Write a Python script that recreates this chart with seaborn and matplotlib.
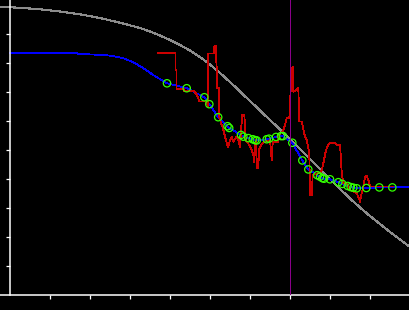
import matplotlib
matplotlib.use("Agg")
import matplotlib.pyplot as plt
import seaborn as sns
import pandas as pd

# ---- data ----
gray_x = [-0.25, 0.25, 0.75, 1.25, 1.75, 2.25, 2.75, 3.25, 3.5, 3.75, 4.0, 4.25,
          4.5, 4.75, 5.0, 5.25, 5.5, 5.75, 6.0, 6.25, 6.5, 6.75, 7.0, 7.25,
          7.5, 7.75, 8.0, 8.25, 8.5, 8.75, 9.0, 9.25, 9.5, 9.75, 10.0]
gray_y = [9.941, 9.903, 9.852, 9.776, 9.679, 9.552, 9.390, 9.207, 9.086, 8.948,
          8.793, 8.621, 8.431, 8.207, 7.948, 7.655, 7.345, 7.017, 6.690, 6.362,
          6.034, 5.707, 5.379, 5.034, 4.690, 4.345, 4.000, 3.655, 3.328, 3.017,
          2.724, 2.448, 2.172, 1.914, 1.655]

lead_x = [0.0, 1.675, 1.7, 2.325, 2.575, 2.825, 3.075, 3.325, 3.575]
lead_y = [8.34, 8.34, 8.31, 8.28, 8.24, 8.17, 8.03, 7.83, 7.59]

pts_x = [3.925, 4.418, 4.858, 4.983, 5.205, 5.438, 5.48, 5.775, 5.833, 5.958,
         6.068, 6.125, 6.168, 6.418, 6.475, 6.65, 6.775, 6.825, 7.058, 7.308,
         7.458, 7.683, 7.75, 7.808, 7.85, 8.0, 8.208, 8.308, 8.443, 8.518,
         8.583, 8.668, 8.908, 9.233, 9.558]
pts_y = [7.30, 7.13, 6.82, 6.58, 6.13, 5.82, 5.76, 5.52, 5.46, 5.41,
         5.37, 5.34, 5.33, 5.37, 5.39, 5.45, 5.48, 5.48, 5.25, 4.64,
         4.33, 4.13, 4.08, 4.03, 4.01, 3.99, 3.89, 3.83, 3.76, 3.72,
         3.70, 3.68, 3.69, 3.71, 3.71]

tail_x = [10.0]
tail_y = [3.71]

red_x = [3.7, 4.138, 4.138, 4.163, 4.163, 4.35, 4.35, 4.6, 4.675, 4.738, 4.9, 4.958,
         4.958, 5.1, 5.1, 5.15, 5.163, 5.183, 5.183, 5.233, 5.233, 5.275, 5.325, 5.35,
         5.4, 5.45, 5.5, 5.543, 5.583, 5.668, 5.708, 5.75, 5.775, 5.808, 5.858, 5.875,
         5.893, 5.95, 6.043, 6.083, 6.1, 6.143, 6.175, 6.208, 6.225, 6.275, 6.35, 6.45,
         6.5, 6.543, 6.568, 6.7, 6.75, 6.818, 6.875, 6.918, 6.983, 7.043, 7.068, 7.083,
         7.208, 7.233, 7.293, 7.375, 7.418, 7.483, 7.5, 7.543, 7.568, 7.708, 7.775, 7.825,
         7.9, 7.958, 8.0, 8.125, 8.175, 8.25, 8.268, 8.293, 8.333, 8.425, 8.5, 8.668,
         8.708, 8.75, 8.793, 8.833, 8.875, 8.918, 8.958, 9.0, 9.575]
red_y = [8.34, 8.34, 7.76, 7.76, 7.09, 7.09, 7.03, 7.03, 6.90, 6.67, 6.67, 6.52,
         8.33, 8.33, 8.56, 8.59, 7.87, 7.87, 7.13, 7.13, 6.14, 5.93, 5.76, 5.59,
         5.34, 5.10, 5.34, 5.46, 5.29, 5.46, 5.34, 5.10, 5.69, 6.21, 6.21, 5.79,
         5.34, 5.24, 5.00, 4.83, 4.59, 5.34, 4.38, 4.38, 5.00, 5.17, 5.28, 5.31,
         5.34, 4.66, 5.29, 5.29, 5.59, 5.63, 5.86, 6.09, 6.09, 7.82, 7.87, 7.01,
         7.13, 5.98, 5.98, 5.46, 5.34, 4.89, 3.45, 3.45, 4.14, 4.20, 4.24, 4.48,
         5.00, 5.17, 5.23, 5.23, 5.17, 5.17, 4.83, 4.21, 3.86, 3.83, 3.62, 3.51,
         3.39, 3.22, 3.51, 3.73, 4.08, 4.10, 3.97, 3.74, 3.74]

marker_line_x = 7.0
x_ticks = [1, 2, 3, 4, 5, 6, 7, 8, 9]
y_ticks = [1, 2, 3, 4, 5, 6, 7, 8, 9]

# ---- build frames ----
gray_df = pd.DataFrame({"x": gray_x, "y": gray_y})
blue_df = pd.DataFrame({"x": lead_x + pts_x + tail_x, "y": lead_y + pts_y + tail_y})
red_df = pd.DataFrame({"x": red_x, "y": red_y})
pts_df = pd.DataFrame({"x": pts_x, "y": pts_y})

sns.set_style("dark")
fig = plt.figure(figsize=(4.1, 3.1), dpi=100, facecolor="black")
ax = fig.add_axes([0, 15 / 310, 1, 295 / 310])
ax.set_facecolor("black")

sns.lineplot(data=gray_df, x="x", y="y", sort=False, estimator=None, ax=ax,
             color="#8c8c8c", linewidth=0.8, antialiased=False)
sns.lineplot(data=blue_df, x="x", y="y", sort=False, estimator=None, ax=ax,
             color="#0000ff", linewidth=0.6, antialiased=False)
sns.lineplot(data=red_df, x="x", y="y", sort=False, estimator=None, ax=ax,
             color="#cc0000", linewidth=0.6, antialiased=False)
sns.scatterplot(data=pts_df, x="x", y="y", ax=ax, s=28, marker="o",
                facecolor="none", edgecolor="#33ff00", linewidth=0.9, zorder=5)
ax.axvline(marker_line_x, color="#8a008a", linewidth=0.72, zorder=6,
           antialiased=False)

ax.set_xlim(-0.25, 10.0)
ax.set_ylim(0, 295 / 29)
ax.set_xticks(x_ticks)
ax.set_yticks(y_ticks)
ax.set_xticklabels([])
ax.set_yticklabels([])
ax.set_xlabel("")
ax.set_ylabel("")
ax.grid(False)

for side in ["top", "right"]:
    ax.spines[side].set_visible(False)
for side in ["left", "bottom"]:
    ax.spines[side].set_visible(True)
    ax.spines[side].set_color("white")
    ax.spines[side].set_linewidth(1.1)
ax.spines["left"].set_position(("data", 0))
ax.tick_params(axis="both", which="both", colors="white", direction="out",
               length=2.8, width=0.9, bottom=True, left=True)

fig.savefig("out.png", dpi=100, facecolor="black")
